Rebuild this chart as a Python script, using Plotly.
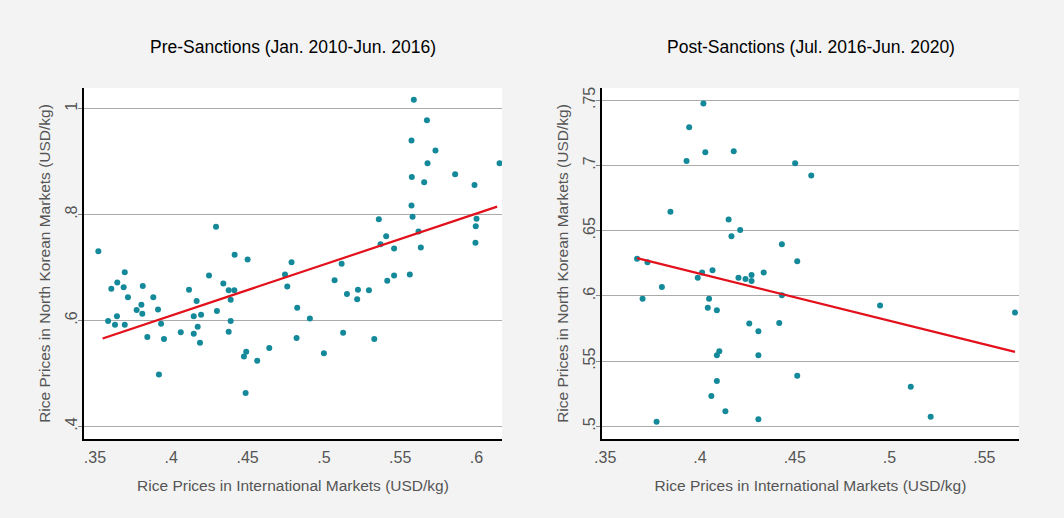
import plotly.graph_objects as go

# ---- Data: Pre-Sanctions (Jan. 2010 - Jun. 2016) ----
pre_intl = [0.3522, 0.3586, 0.3607, 0.3631, 0.3644, 0.3646, 0.3688, 0.3695, 0.3695, 0.3716,
            0.3773, 0.3804, 0.3810, 0.3813, 0.3843, 0.3882, 0.3913, 0.3919, 0.3933, 0.3952,
            0.4062, 0.4116, 0.4147, 0.4147, 0.4166, 0.4173, 0.4188, 0.4195, 0.4247, 0.4293,
            0.4299, 0.4341, 0.4376, 0.4376, 0.4389, 0.4389, 0.4413, 0.4415, 0.4476, 0.4487,
            0.4491, 0.4500, 0.4563, 0.4642, 0.4745, 0.4760, 0.4788, 0.4821, 0.4825, 0.4908,
            0.5000, 0.5070, 0.5116, 0.5126, 0.5151, 0.5218, 0.5223, 0.5295, 0.5330, 0.5360,
            0.5371, 0.5408, 0.5415, 0.5460, 0.5460, 0.5563, 0.5574, 0.5574, 0.5576, 0.5581,
            0.5589, 0.5620, 0.5635, 0.5657, 0.5675, 0.5679, 0.5731, 0.5860, 0.5987, 0.5993,
            0.5995, 0.6000, 0.6151]
pre_nk = [0.731, 0.599, 0.660, 0.592, 0.608, 0.672, 0.663, 0.691, 0.592, 0.644,
          0.620, 0.630, 0.613, 0.665, 0.569, 0.644, 0.621, 0.498, 0.594, 0.565,
          0.578, 0.658, 0.608, 0.575, 0.637, 0.588, 0.558, 0.611, 0.685, 0.777,
          0.618, 0.670, 0.657, 0.579, 0.639, 0.599, 0.657, 0.724, 0.532, 0.463,
          0.541, 0.715, 0.524, 0.548, 0.687, 0.664, 0.710, 0.567, 0.624, 0.604,
          0.538, 0.676, 0.707, 0.577, 0.650, 0.640, 0.658, 0.657, 0.565, 0.791,
          0.744, 0.759, 0.675, 0.736, 0.685, 0.687, 0.940, 0.817, 0.871, 0.796,
          1.017, 0.768, 0.738, 0.861, 0.978, 0.897, 0.921, 0.876, 0.856, 0.747,
          0.778, 0.792, 0.897]
pre_fit_x = [0.355, 0.6135]
pre_fit_y = [0.566, 0.815]

# ---- Data: Post-Sanctions (Jul. 2016 - Jun. 2020) ----
post_intl = [0.4018, 0.3943, 0.4028, 0.4178, 0.3929, 0.4502, 0.4587, 0.3844, 0.4151, 0.4212,
             0.4166, 0.4432, 0.4513, 0.3668, 0.3723, 0.4066, 0.4011, 0.3988, 0.4203, 0.4240,
             0.4272, 0.4272, 0.4336, 0.3799, 0.3697, 0.4048, 0.4041, 0.4089, 0.4432, 0.4260,
             0.4418, 0.4308, 0.4102, 0.4089, 0.4308, 0.4513, 0.4089, 0.4060, 0.4134, 0.4308,
             0.3771, 0.4950, 0.5662, 0.5112, 0.5217]
post_nk = [0.7475, 0.7294, 0.7102, 0.7110, 0.7035, 0.7018, 0.6923, 0.6646, 0.6585, 0.6506,
           0.6458, 0.6396, 0.6266, 0.6284, 0.6258, 0.6197, 0.6179, 0.6140, 0.6140, 0.6130,
           0.6161, 0.6115, 0.6179, 0.6069, 0.5979, 0.5979, 0.5910, 0.5890, 0.6005, 0.5788,
           0.5793, 0.5729, 0.5576, 0.5545, 0.5545, 0.5387, 0.5348, 0.5233, 0.5116, 0.5054,
           0.5036, 0.5926, 0.5872, 0.5304, 0.5074]
post_fit_x = [0.3668, 0.5662]
post_fit_y = [0.6290, 0.5571]

# ---- Axis ticks / labels ----
pre_xticks = [0.35, 0.4, 0.45, 0.5, 0.55, 0.6]
pre_xlabels = [".35", ".4", ".45", ".5", ".55", ".6"]
pre_yticks = [0.4, 0.6, 0.8, 1.0]
pre_ylabels = [".4", ".6", ".8", "1"]
post_xticks = [0.35, 0.4, 0.45, 0.5, 0.55]
post_xlabels = [".35", ".4", ".45", ".5", ".55"]
post_yticks = [0.5, 0.55, 0.6, 0.65, 0.7, 0.75]
post_ylabels = [".5", ".55", ".6", ".65", ".7", ".75"]

titles = ["Pre-Sanctions (Jan. 2010-Jun. 2016)", "Post-Sanctions (Jul. 2016-Jun. 2020)"]
xtitle = "Rice Prices in International Markets (USD/kg)"
ytitle = "Rice Prices in North Korean Markets (USD/kg)"

W, H = 1064, 518
L, R, T, B = 84, 45, 88, 79          # plot-area margins in pixels
PW, PH = W - L - R, H - T - B
FONT = "Liberation Sans Narrow, Arial Narrow, Liberation Sans, sans-serif"
MARKER = "#13899a"
LINE = "#e3111b"
GRID = "#ababab"
TXT = "#555555"

fig = go.Figure()
fig.add_trace(go.Scatter(x=pre_intl, y=pre_nk, mode="markers",
                         marker=dict(color=MARKER, size=6), xaxis="x", yaxis="y", showlegend=False))
fig.add_trace(go.Scatter(x=pre_fit_x, y=pre_fit_y, mode="lines",
                         line=dict(color=LINE, width=2.2), xaxis="x", yaxis="y", showlegend=False))
fig.add_trace(go.Scatter(x=post_intl, y=post_nk, mode="markers",
                         marker=dict(color=MARKER, size=6), xaxis="x2", yaxis="y2", showlegend=False))
fig.add_trace(go.Scatter(x=post_fit_x, y=post_fit_y, mode="lines",
                         line=dict(color=LINE, width=2.2), xaxis="x2", yaxis="y2", showlegend=False))

def px_x(p):
    return (p - L) / PW

def px_y(p):
    return (H - B - p) / PH

def xax(domain, rng, ticks, labels, anchor):
    return dict(domain=domain, range=rng, tickvals=ticks, ticktext=labels, anchor=anchor,
                automargin=False,
                showgrid=False, zeroline=False, showline=True, linecolor="black", linewidth=1.5,
                ticks="outside", ticklen=3, tickcolor="rgba(0,0,0,0)",
                tickfont=dict(family=FONT, size=16, color=TXT),
                title=dict(text=xtitle, font=dict(family=FONT, size=15.5, color=TXT), standoff=15))

def yax(rng, ticks, labels, anchor):
    return dict(domain=[0, 1], range=rng, tickvals=ticks, ticktext=labels, anchor=anchor,
                automargin=False,
                showgrid=True, gridcolor=GRID, gridwidth=1, zeroline=False,
                showline=True, linecolor="black", linewidth=1.5,
                ticks="outside", ticklen=4, tickcolor="#888888", tickangle=-90,
                ticklabelstandoff=-5,
                tickfont=dict(family=FONT, size=16, color=TXT),
                title=dict(text=ytitle, font=dict(family=FONT, size=15.5, color=TXT), standoff=8))

fig.update_layout(
    width=W, height=H,
    margin=dict(l=L, r=R, t=T, b=B),
    paper_bgcolor="#f3f3f3",
    plot_bgcolor="white",
    xaxis=xax([px_x(84), px_x(502)], [0.3428, 0.6167], pre_xticks, pre_xlabels, "y"),
    yaxis=yax([0.3763, 1.039], pre_yticks, pre_ylabels, "x"),
    xaxis2=xax([px_x(602), px_x(1019)], [0.3483, 0.5683], post_xticks, post_xlabels, "y2"),
    yaxis2=yax([0.4903, 0.7594], post_yticks, post_ylabels, "x2"),
    annotations=[
        dict(text=titles[0], x=px_x((84 + 502) / 2), y=px_y(47), xref="paper", yref="paper",
             showarrow=False, xanchor="center", yanchor="middle",
             font=dict(family=FONT, size=17.5, color="black")),
        dict(text=titles[1], x=px_x((602 + 1019) / 2), y=px_y(47), xref="paper", yref="paper",
             showarrow=False, xanchor="center", yanchor="middle",
             font=dict(family=FONT, size=17.5, color="black")),
    ],
)

fig.write_html("out.html", config={"displayModeBar": False},
               post_script="document.body.style.margin='0';")
